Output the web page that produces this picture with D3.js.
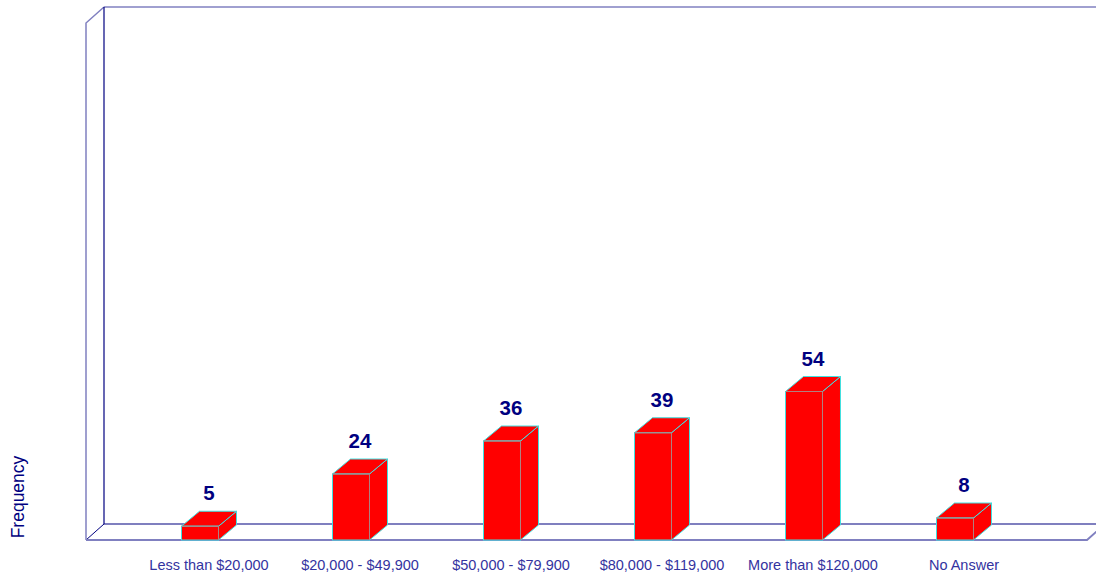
<!DOCTYPE html>
<html><head><meta charset="utf-8">
<script src="https://cdn.jsdelivr.net/npm/d3@7"></script>
<style>body{margin:0;background:#fff}svg{display:block}</style>
</head><body>
<script>
const categories = ["Less than $20,000","$20,000 - $49,900","$50,000 - $79,900","$80,000 - $119,000","More than $120,000","No Answer"];
const values = [5,24,36,39,54,8];
const yAxisTitle = "Frequency";

const W=1096,H=576;
const svg=d3.select("body").append("svg").attr("width",W).attr("height",H);
const dx=18, dy=16;
const floorY=540, topY=23, left=86, right=1087;
const x=d3.scaleBand().domain(categories).range([124.5,1030.5]).paddingInner(0.755).paddingOuter(0.3775);
const y=d3.scaleLinear().domain([0,188]).range([floorY,topY]);

const light="#8080c0", dark="#000080";
svg.append("line").attr("x1",left+dx).attr("y1",topY-dy).attr("x2",W).attr("y2",topY-dy).attr("stroke",light).attr("stroke-width",1.5);
svg.append("path").attr("d",`M${left},${floorY} L${left},${topY} L${left+dx},${topY-dy}`).attr("fill","none").attr("stroke",light).attr("stroke-width",1.5);
svg.append("line").attr("x1",left+dx).attr("y1",topY-dy).attr("x2",left+dx).attr("y2",floorY-dy).attr("stroke",dark).attr("stroke-width",1.2);
svg.append("line").attr("x1",left+dx).attr("y1",floorY-dy).attr("x2",W).attr("y2",floorY-dy).attr("stroke",dark).attr("stroke-width",1.2);
svg.append("line").attr("x1",left).attr("y1",floorY).attr("x2",left+dx).attr("y2",floorY-dy).attr("stroke",dark).attr("stroke-width",1);
svg.append("path").attr("d",`M${left},${floorY} L${right},${floorY} L${right+dx},${floorY-dy}`).attr("fill","none").attr("stroke",light).attr("stroke-width",2);

const bdx=18, bdy=15;
const g=svg.append("g");
values.forEach((v,i)=>{
  const x0=x(categories[i]), w=x.bandwidth(), yt=y(v);
  const bg=g.append("g");
  bg.append("path").attr("d",`M${x0+w},${floorY} L${x0+w+bdx},${floorY-bdy} L${x0+w+bdx},${yt-bdy} L${x0+w},${yt} Z`)
    .attr("fill","#ff0000").attr("stroke","#40e0e0").attr("stroke-width",1);
  bg.append("path").attr("d",`M${x0},${yt} L${x0+bdx},${yt-bdy} L${x0+w+bdx},${yt-bdy} L${x0+w},${yt} Z`)
    .attr("fill","#ff0000").attr("stroke","#40e0e0").attr("stroke-width",1);
  bg.append("rect").attr("x",x0).attr("y",yt).attr("width",w).attr("height",floorY-yt)
    .attr("fill","#ff0000").attr("stroke","#40e0e0").attr("stroke-width",1);
  bg.append("line").attr("x1",x0).attr("x2",x0+w).attr("y1",yt).attr("y2",yt).attr("stroke","#b08080").attr("stroke-width",1);
  bg.append("line").attr("x1",x0+w).attr("x2",x0+w).attr("y1",yt).attr("y2",floorY).attr("stroke","#b08080").attr("stroke-width",1);
  svg.append("text").attr("x",x0+w/2+bdx/2).attr("y",yt-bdy-11).attr("text-anchor","middle")
    .attr("font-family","Liberation Sans, Arial, sans-serif").attr("font-weight","bold").attr("font-size",20.5).attr("fill",dark).text(v);
  svg.append("text").attr("x",x0+w/2+bdx/2).attr("y",570).attr("text-anchor","middle")
    .attr("font-family","Liberation Sans, Arial, sans-serif").attr("font-size",14.5).attr("fill","#3333a0").text(categories[i]);
});
svg.append("text").attr("transform","translate(24,497) rotate(-90)").attr("text-anchor","middle")
  .attr("font-family","Liberation Sans, Arial, sans-serif").attr("font-size",17.5).attr("fill",dark).text(yAxisTitle);
</script>
</body></html>
